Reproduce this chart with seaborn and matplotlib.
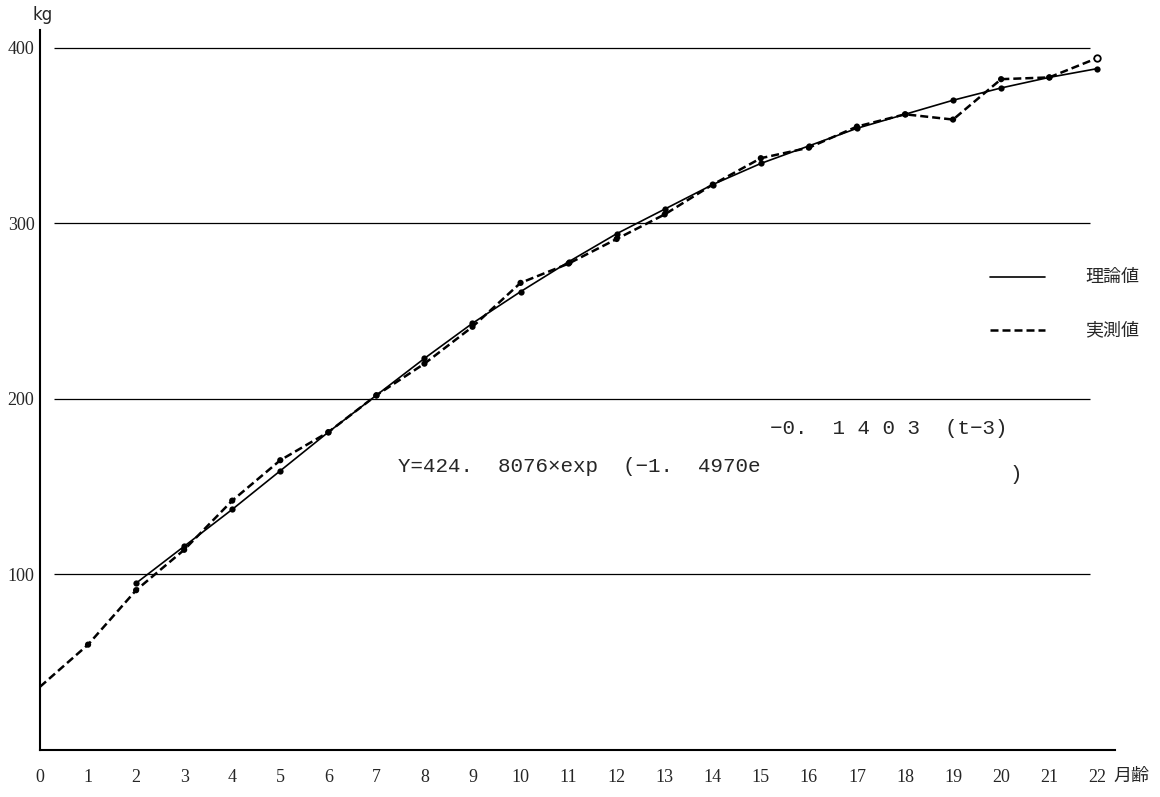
import matplotlib
matplotlib.use("Agg")
import matplotlib.pyplot as plt
import pandas as pd
import seaborn as sns
from matplotlib.lines import Line2D

# ---- data ----
months_measured = list(range(0, 23))
measured = [36, 60, 91, 114, 142, 165, 181, 202, 220, 241, 266, 277, 291,
            305, 322, 337, 343, 355, 362, 359, 382, 383, 394]
months_theory = list(range(2, 23))
theory = [95, 116, 137, 159, 181, 202, 223, 243, 261, 278, 294, 308, 322,
          334, 344, 354, 362, 370, 377, 383, 388]
x_ticks = list(range(0, 23))
y_ticks = [100, 200, 300, 400]
legend_labels = ["理論値", "実測値"]
equation_main = "Y=424.  8076×exp  (−1.  4970e"
equation_sup = "−0.  1 4 0 3  (t−3)"
x_unit = "月齢"
y_unit = "kg"

sns.set_style("white")
plt.rcParams['font.family'] = ['Liberation Serif', 'Noto Sans CJK JP', 'DejaVu Sans']

W, H = 1160, 797
fig = plt.figure(figsize=(W / 100, H / 100), dpi=100)
ax = fig.add_axes([40 / W, 1 - 750 / H, (1115 - 40) / W, (750 - 30) / H])

df_t = pd.DataFrame({"month": months_theory, "kg": theory})
df_m = pd.DataFrame({"month": months_measured, "kg": measured})

# reference grid lines (partial width)
ax.hlines(y_ticks, 0.3, 21.85, color="black", lw=0.9, zorder=1)

sns.lineplot(data=df_t, x="month", y="kg", ax=ax, color="black", lw=1.2,
             marker="o", markersize=4.5, markeredgewidth=0, zorder=3)
sns.lineplot(data=df_m, x="month", y="kg", ax=ax, color="black", lw=1.8,
             linestyle=(0, (3.2, 1.6)), zorder=3)
df_mk = df_m[(df_m["month"] >= 1) & (df_m["month"] <= 21)]
sns.scatterplot(data=df_mk, x="month", y="kg", ax=ax, color="black", s=20,
                edgecolor="none", zorder=4)
df_last = df_m[df_m["month"] == 22]
sns.scatterplot(data=df_last, x="month", y="kg", ax=ax, color="white", s=22,
                edgecolor="black", linewidth=1.3, zorder=5)

ax.set_xlim(0, 22.37)
ax.set_ylim(0, 410)
ax.set_xticks(x_ticks)
ax.set_xticklabels([str(v) for v in x_ticks], fontsize=13)
ax.set_yticks(y_ticks)
ax.set_yticklabels([str(v) for v in y_ticks], fontsize=13)
ax.tick_params(axis="x", direction="out", length=9, width=1.3, pad=5, color="black")
ax.tick_params(axis="y", length=0, pad=4)
ax.set_xlabel("")
ax.set_ylabel("")
for s in ["top", "right"]:
    ax.spines[s].set_visible(False)
for s in ["left", "bottom"]:
    ax.spines[s].set_color("black")
    ax.spines[s].set_linewidth(1.5)

# units
fig.text(43 / W, 1 - 15 / H, y_unit, ha="center", va="center", fontsize=12,
         family=["DejaVu Sans"])
fig.text(1131 / W, 1 - 776 / H, x_unit, ha="center", va="center", fontsize=13,
         family=["Noto Sans CJK JP", "DejaVu Sans"])

# legend
fig.add_artist(Line2D([990 / W, 1045 / W], [1 - 277 / H, 1 - 277 / H],
                      color="black", lw=1.2))
fig.add_artist(Line2D([990 / W, 1045 / W], [1 - 330 / H, 1 - 330 / H],
                      color="black", lw=1.8, linestyle=(0, (3.2, 1.6))))
fig.text(1112 / W, 1 - 277 / H, legend_labels[0], ha="center", va="center",
         fontsize=13, family=["Noto Sans CJK JP", "DejaVu Sans"])
fig.text(1112 / W, 1 - 330 / H, legend_labels[1], ha="center", va="center",
         fontsize=13, family=["Noto Sans CJK JP", "DejaVu Sans"])

# equation
eq_font = ["Liberation Mono", "DejaVu Sans Mono"]
fig.text(398 / W, 1 - 466 / H, equation_main, ha="left", va="center",
         fontsize=15, family=eq_font)
fig.text(770 / W, 1 - 428 / H, equation_sup, ha="left", va="center",
         fontsize=15, family=eq_font)
fig.text(1010 / W, 1 - 474 / H, ")", ha="left", va="center",
         fontsize=15, family=eq_font)

fig.savefig("out.png", dpi=100)
